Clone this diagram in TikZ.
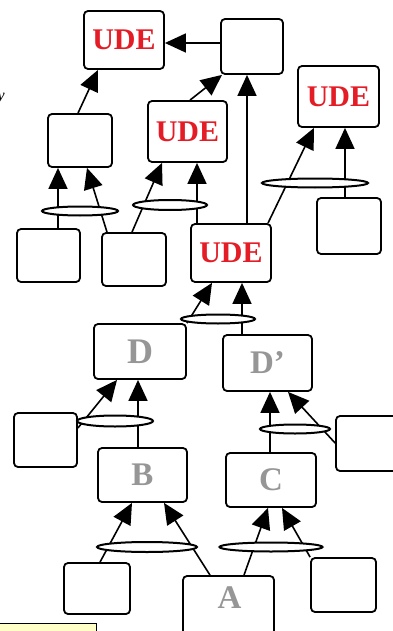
\documentclass[tikz,border=0pt]{standalone}
\usepackage{fontspec}
\setmainfont{Liberation Serif}
\usetikzlibrary{arrows.meta,shapes.geometric}
\definecolor{udered}{RGB}{228,28,38}
\definecolor{lettergray}{RGB}{150,150,150}
\definecolor{noteyellow}{RGB}{255,255,200}
\tikzset{
  box/.style={draw, line width=1.8pt, rounded corners=4pt, inner sep=0pt, fill=white},
  udetext/.style={text=udered, font=\fontsize{30}{30}\selectfont\bfseries},
  lettertext/.style={text=lettergray, font=\fontsize{33}{33}\selectfont\bfseries},
  arr/.style={line width=1.6pt, -{Triangle[length=21pt,width=19pt]}},
  andbar/.style={draw, ellipse, line width=2pt, fill=white, inner sep=0pt},
}
\begin{document}
\begin{tikzpicture}[x=1pt,y=-1pt]
\useasboundingbox (0,0) rectangle (393,631);
% boxes
\node[box, minimum width=80pt, minimum height=58pt, udetext] (ude1) at (124,40) {UDE};
\node[box, minimum width=62pt, minimum height=55pt] (top) at (252,46.5) {};
\node[box, minimum width=64pt, minimum height=53pt] (box3) at (80,140.5) {};
\node[box, minimum width=79pt, minimum height=61pt, udetext] (ude2) at (187.5,131.5) {UDE};
\node[box, minimum width=81pt, minimum height=61pt, udetext] (ude3) at (338.5,96.5) {UDE};
\node[box, minimum width=64pt, minimum height=56pt] (box6) at (349,226) {};
\node[box, minimum width=63pt, minimum height=53pt] (box7) at (48.5,255.5) {};
\node[box, minimum width=64pt, minimum height=53pt] (box8) at (134,259.5) {};
\node[box, minimum width=80pt, minimum height=58pt, udetext] (ude4) at (231,253) {UDE};
\node[box, minimum width=92pt, minimum height=55pt, lettertext, font=\fontsize{36}{36}\selectfont\bfseries] (D) at (140,351.5) {D};
\node[box, minimum width=89pt, minimum height=56pt, lettertext] (Dp) at (267.5,363) {D’};
\node[box, minimum width=63pt, minimum height=54pt] (box12) at (45.5,440) {};
\node[box, minimum width=63pt, minimum height=55pt] (box13) at (367.5,443.5) {};
\node[box, minimum width=89pt, minimum height=54pt, lettertext] (B) at (142.5,475) {B};
\node[box, minimum width=90pt, minimum height=54pt, lettertext] (C) at (271,480) {C};
\node[box, minimum width=66pt, minimum height=51pt] (box16) at (97,588.5) {};
\node[box, minimum width=91pt, minimum height=63pt] (A) at (228.5,607.5) {};
\node[lettertext] (Atext) at (229.5,598) {A};
\node[box, minimum width=65pt, minimum height=54pt] (box18) at (343.5,585) {};
% note box and text fragment
\node[draw, line width=1.4pt, fill=noteyellow, minimum width=100pt, minimum height=20pt, inner sep=0pt, anchor=north west] (note) at (-4,623) {};
\node[anchor=east, inner sep=0pt, font=\fontsize{16}{16}\selectfont\itshape] (frag) at (5,99) {y};
% connectors
\draw[arr] (top.west |- 0,43) -- (ude1.east |- 0,43);
\draw[arr] (box3.north -| 78,0) -- (ude1.south -| 98,0);
\draw[arr] (ude2.north -| 190,0) -- (top.south -| 222,0);
\draw[arr] (ude4.north -| 247,0) -- (top.south -| 247,0);
\draw[arr] (box7.north -| 58,0) -- (box3.south -| 58,0);
\draw[arr] (box8.north -| 107,0) -- (box3.south -| 87,0);
\draw[arr] (box8.north -| 132,0) -- (ude2.south -| 162,0);
\draw[arr] (ude4.north -| 197,0) -- (ude2.south -| 197,0);
\draw[arr] (ude4.north -| 268,0) -- (ude3.south -| 314,0);
\draw[arr] (box6.north -| 345,0) -- (ude3.south -| 345,0);
\draw[arr] (D.north east) -- (ude4.south -| 212,0);
\draw[arr] (Dp.north -| 242,0) -- (ude4.south -| 242,0);
\draw[arr] (box12.east |- 0,428) -- (D.south -| 117,0);
\draw[arr] (B.north -| 138,0) -- (D.south -| 138,0);
\draw[arr] (C.north -| 270,0) -- (Dp.south -| 270,0);
\draw[arr] (box13.west |- 0,443) -- (Dp.south -| 288,0);
\draw[arr] (box16.north -| 100,0) -- (B.south -| 132,0);
\draw[arr] (A.north -| 210,0) -- (B.south -| 164,0);
\draw[arr] (A.north -| 244,0) -- (C.south -| 268,0);
\draw[arr] (box18.north west) -- (C.south -| 282,0);
% AND bars
\node[andbar, minimum width=76pt, minimum height=9pt] (barA) at (80,211) {};
\node[andbar, minimum width=74pt, minimum height=10pt] (barB) at (170,205) {};
\node[andbar, minimum width=106pt, minimum height=9pt] (barC) at (315,183) {};
\node[andbar, minimum width=74pt, minimum height=9pt] (barD) at (218,319) {};
\node[andbar, minimum width=76pt, minimum height=11pt] (barE) at (115,421) {};
\node[andbar, minimum width=70pt, minimum height=9pt] (barF) at (295,429) {};
\node[andbar, minimum width=100pt, minimum height=10pt] (barG) at (147,547) {};
\node[andbar, minimum width=103pt, minimum height=9pt] (barH) at (271,547) {};
\end{tikzpicture}
\end{document}
